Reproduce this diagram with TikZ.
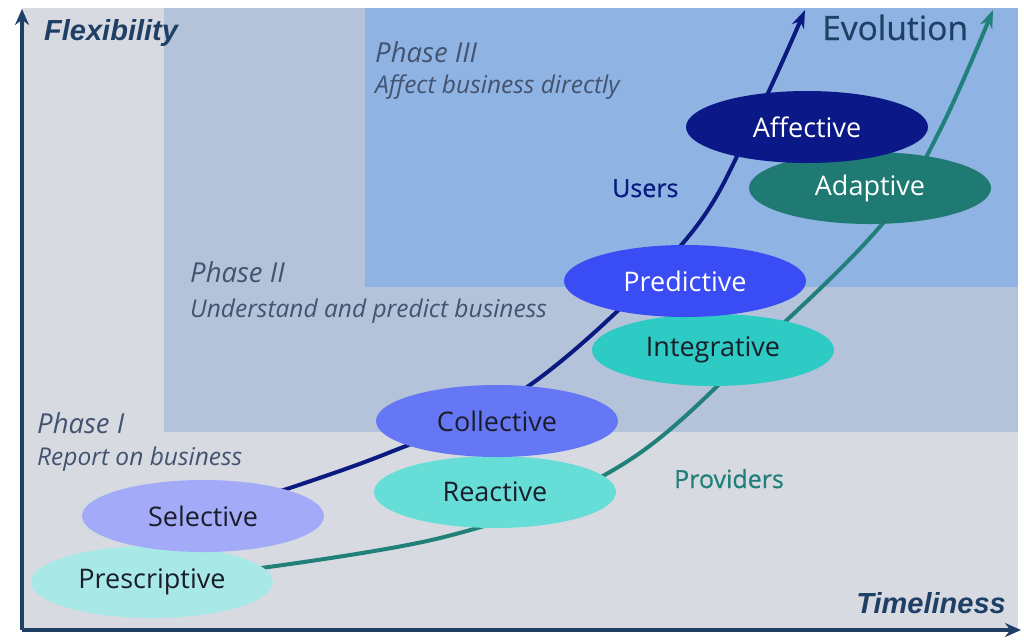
\documentclass[tikz,border=0pt]{standalone}
\usepackage{fontspec}
\setmainfont{Open Sans}
\newfontfamily\arialfont{Liberation Sans}
\newfontfamily\medfont[FakeBold=0.6]{Open Sans}
\usetikzlibrary{shapes.geometric,arrows.meta}
\pgfdeclarelayer{back}\pgfdeclarelayer{mid}
\pgfsetlayers{back,mid,main}
\definecolor{bggrey}{HTML}{D7DBE1}
\definecolor{phtwo}{HTML}{B4C3DA}
\definecolor{phthree}{HTML}{8FB3E2}
\definecolor{axisc}{HTML}{1F3F66}
\definecolor{phtext}{HTML}{435370}
\definecolor{usersc}{HTML}{0A1A80}
\definecolor{provc}{HTML}{22807A}
\definecolor{cPre}{HTML}{A8E8E6}
\definecolor{cSel}{HTML}{A3AAF8}
\definecolor{cRea}{HTML}{66DDD6}
\definecolor{cCol}{HTML}{6677F5}
\definecolor{cInt}{HTML}{2ECBC5}
\definecolor{cPred}{HTML}{3A4DF5}
\definecolor{cAda}{HTML}{1E7A72}
\definecolor{cAff}{HTML}{0A1888}
\definecolor{darktext}{HTML}{1A1D2A}
\tikzset{
  blob/.style={ellipse, minimum width=242pt, minimum height=72pt, inner sep=0pt,
    font=\fontsize{27}{31}\selectfont, text=darktext},
  whiteblob/.style={blob, text=white},
  axisline/.style={draw=axisc, line width=3.5pt, -{Stealth[length=16pt,width=14pt]}},
  curveline/.style={line width=4pt, -{Stealth[length=18pt,width=13pt]}},
  axislabel/.style={font=\arialfont\bfseries\itshape\fontsize{29}{33}\selectfont, text=axisc, inner sep=0pt},
  phasetitle/.style={font=\itshape\fontsize{27.5}{32}\selectfont, text=phtext, inner sep=0pt, anchor=base west},
  phasesub/.style={font=\itshape\fontsize{24.5}{29}\selectfont, text=phtext, inner sep=0pt, anchor=base west},
  curvelabel/.style={font=\medfont\fontsize{25}{30}\selectfont, inner sep=0pt, anchor=base west},
}
\begin{document}
\begin{tikzpicture}[x=1pt,y=-1pt]
\useasboundingbox (0,0) rectangle (1024,641);
\begin{pgfonlayer}{back}
\fill[white] (0,0) rectangle (1024,641);
\fill[bggrey] (22,8) rectangle (1018,630);
\fill[phtwo] (164,8) rectangle (1018,432);
\fill[phthree] (365,8) rectangle (1018,287);
\end{pgfonlayer}

% ellipses
\node[blob, fill=cPre] (pre) at (152,582) {Prescriptive};
\node[blob, fill=cSel] (sel) at (203,516) {Selective};
\node[blob, fill=cRea] (rea) at (495,492) {Reactive};
\node[blob, fill=cCol] (col) at (497,421) {Collective};
\node[blob, fill=cInt] (int) at (713,350) {Integrative};
\node[whiteblob, fill=cPred] (pred) at (685,281) {Predictive};
\node[whiteblob, fill=cAda] (ada) at (870,188) {Adaptive};
\node[whiteblob, fill=cAff] (aff) at (807,127) {Affective};

% waypoints
\coordinate (u1) at (383,455);
\coordinate (u2) at (530,385);
\coordinate (u3) at (683,243);
\coordinate (u4) at (750,130);
\coordinate (utip) at (805,10);
\coordinate (p1) at (440,538);
\coordinate (p2) at (620,466);
\coordinate (p3) at (760,345);
\coordinate (p4) at (883,223);
\coordinate (p5) at (940,130);
\coordinate (ptip) at (993,10);

\begin{pgfonlayer}{mid}
\draw[curveline, usersc] plot[smooth, tension=0.6] coordinates {(sel.center) (u1) (u2) (u3) (u4) (utip)};
\draw[curveline, provc] plot[smooth, tension=0.6] coordinates {(pre.center) (p1) (p2) (p3) (p4) (p5) (ptip)};
\coordinate (origin) at (22,630);
\coordinate (ytip) at (22,9);
\coordinate (xtip) at (1021,630);
\draw[axisline] (origin) -- (ytip);
\draw[axisline] (origin) -- (xtip);
\end{pgfonlayer}

% axis labels
\node[axislabel, anchor=base west] (flex) at (44,40) {Flexibility};
\node[axislabel, anchor=base east] (time) at (1006,613) {Timeliness};
\node[font=\medfont\fontsize{33.5}{38}\selectfont, text=axisc, inner sep=0pt, anchor=base west] (evo) at (822,40) {Evolution};

% phases
\node[phasetitle] (ph3) at (375,62) {Phase III};
\node[phasesub] (ph3s) at (375,93) {Affect business directly};
\node[phasetitle] (ph2) at (190,282) {Phase II};
\node[phasesub] (ph2s) at (190,317) {Understand and predict business};
\node[phasetitle] (ph1) at (37,433) {Phase I};
\node[phasesub] (ph1s) at (37,465) {Report on business};

% curve labels
\node[curvelabel, text=usersc] (users) at (612,197) {Users};
\node[curvelabel, text=provc] (prov) at (674,488) {Providers};
\end{tikzpicture}
\end{document}
